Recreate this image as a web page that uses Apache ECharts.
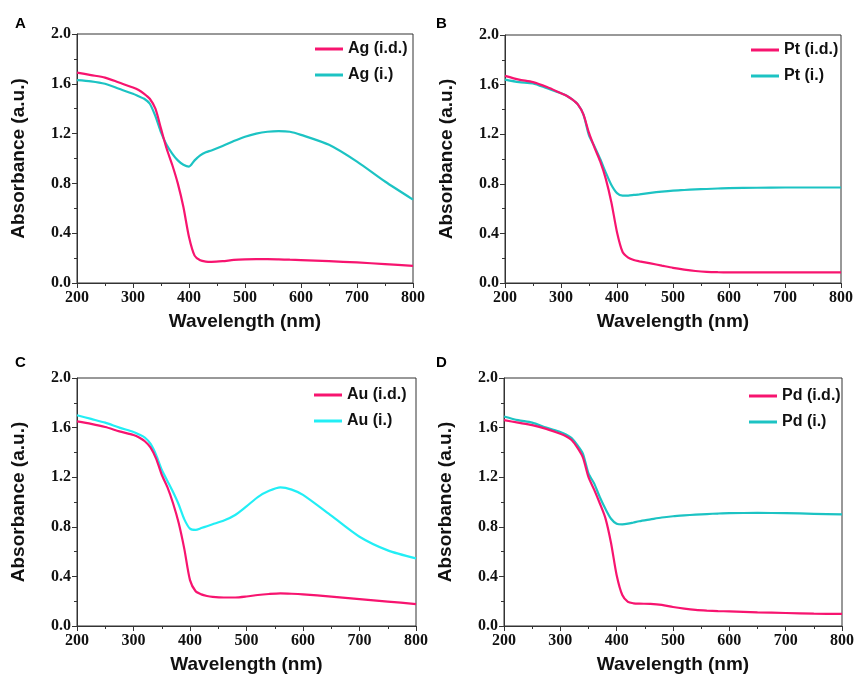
<!DOCTYPE html>
<html><head><meta charset="utf-8">
<script src="https://cdn.jsdelivr.net/npm/echarts@6/dist/echarts.min.js"></script>
<style>html,body{margin:0;padding:0;background:#fff}#c{width:857px;height:676px}</style>
</head><body><div id="c"></div>
<script>
const wavelength = [200,225,250,275,300,310,320,330,340,350,360,370,380,390,400,410,420,430,440,460,480,500,520,540,560,580,600,650,700,750,800];
const xTicks = [200,300,400,500,600,700,800];
const yTicks = [0.0,0.4,0.8,1.2,1.6,2.0];

const agID = [1.69,1.67,1.65,1.61,1.57,1.55,1.52,1.48,1.40,1.24,1.08,0.95,0.80,0.61,0.37,0.22,0.182,0.172,0.17,0.175,0.185,0.19,0.192,0.192,0.19,0.187,0.184,0.175,0.165,0.152,0.137];
const agI  = [1.63,1.62,1.60,1.56,1.52,1.50,1.48,1.44,1.34,1.21,1.11,1.04,0.985,0.95,0.935,0.985,1.025,1.05,1.065,1.10,1.14,1.175,1.20,1.215,1.22,1.215,1.19,1.11,0.975,0.815,0.67];
const ptID = [1.67,1.64,1.62,1.58,1.53,1.51,1.48,1.44,1.36,1.21,1.09,0.98,0.84,0.65,0.41,0.25,0.205,0.185,0.175,0.158,0.14,0.122,0.108,0.097,0.09,0.087,0.086,0.085,0.085,0.085,0.085];
const ptI  = [1.64,1.62,1.61,1.57,1.53,1.51,1.48,1.44,1.36,1.19,1.10,1.00,0.89,0.79,0.725,0.705,0.705,0.71,0.715,0.727,0.737,0.745,0.75,0.755,0.758,0.762,0.765,0.768,0.77,0.77,0.77];
const auID = [1.65,1.63,1.605,1.57,1.54,1.52,1.49,1.44,1.35,1.22,1.12,0.99,0.83,0.62,0.37,0.28,0.255,0.242,0.235,0.23,0.23,0.238,0.25,0.258,0.263,0.26,0.255,0.237,0.217,0.197,0.177];
const auI  = [1.70,1.67,1.64,1.60,1.565,1.545,1.52,1.47,1.38,1.26,1.17,1.08,0.98,0.86,0.785,0.775,0.79,0.805,0.82,0.85,0.895,0.965,1.04,1.09,1.118,1.10,1.057,0.89,0.72,0.61,0.545];
const pdID = [1.66,1.64,1.62,1.59,1.55,1.53,1.50,1.44,1.36,1.20,1.10,0.99,0.87,0.67,0.41,0.25,0.195,0.183,0.18,0.178,0.17,0.153,0.14,0.13,0.124,0.12,0.118,0.11,0.105,0.10,0.097];
const pdI  = [1.69,1.66,1.64,1.60,1.565,1.545,1.515,1.46,1.39,1.23,1.15,1.04,0.945,0.865,0.825,0.82,0.825,0.835,0.845,0.86,0.875,0.885,0.892,0.898,0.903,0.907,0.91,0.912,0.91,0.905,0.90];

const panels = [
  {letter:'A', names:['Ag (i.d.)','Ag (i.)'], vals:[agID, agI], colors:['#f7146f','#1cc3c3'], grid:{left:77, top:34, width:336, height:249}, legend:{left:315, top:41}},
  {letter:'B', names:['Pt (i.d.)','Pt (i.)'], vals:[ptID, ptI], colors:['#f7146f','#1cc3c3'], grid:{left:505, top:35, width:336, height:248}, legend:{left:751, top:42}},
  {letter:'C', names:['Au (i.d.)','Au (i.)'], vals:[auID, auI], colors:['#f7146f','#22eef5'], grid:{left:77, top:378, width:339, height:248}, legend:{left:314, top:387}},
  {letter:'D', names:['Pd (i.d.)','Pd (i.)'], vals:[pdID, pdI], colors:['#f7146f','#1cc3c3'], grid:{left:504, top:378, width:338, height:248}, legend:{left:749, top:388}}
];

const grids=[], xAxes=[], yAxes=[], series=[], legends=[], titles=[];
panels.forEach((p,i)=>{
  grids.push(Object.assign({show:true, borderColor:'#333', borderWidth:1, containLabel:false}, p.grid));
  xAxes.push({type:'value', gridIndex:i, min:xTicks[0], max:xTicks[xTicks.length-1], interval:100,
    name:'Wavelength (nm)', nameLocation:'middle', nameGap:29,
    nameTextStyle:{fontFamily:'Liberation Sans', fontWeight:'bold', fontSize:19, color:'#111'},
    axisLine:{lineStyle:{color:'#333', width:1}},
    axisTick:{length:5, lineStyle:{color:'#333'}},
    minorTick:{show:true, splitNumber:2, length:3, lineStyle:{color:'#333'}},
    splitLine:{show:false},
    axisLabel:{margin:7, fontFamily:'Liberation Serif', fontWeight:'bold', fontSize:16, color:'#111'}});
  yAxes.push({type:'value', gridIndex:i, min:yTicks[0], max:yTicks[yTicks.length-1], interval:0.4,
    name:'Absorbance (a.u.)', nameLocation:'middle', nameGap:49,
    nameTextStyle:{fontFamily:'Liberation Sans', fontWeight:'bold', fontSize:19, color:'#111'},
    axisLine:{lineStyle:{color:'#333', width:1}},
    axisTick:{length:5, lineStyle:{color:'#333'}},
    minorTick:{show:true, splitNumber:2, length:3, lineStyle:{color:'#333'}},
    splitLine:{show:false},
    axisLabel:{margin:6, fontFamily:'Liberation Serif', fontWeight:'bold', fontSize:16, color:'#111', formatter:v=>v.toFixed(1)}});
  p.names.forEach((n,k)=>{
    series.push({type:'line', name:n, xAxisIndex:i, yAxisIndex:i, showSymbol:false, smooth:0.25,
      data:wavelength.map((w,j)=>[w,p.vals[k][j]]),
      lineStyle:{color:p.colors[k], width:2.2}, itemStyle:{color:p.colors[k]}, z:3-k});
  });
  legends.push({data:p.names, left:p.legend.left, top:p.legend.top, orient:'vertical', padding:0,
    itemWidth:28, itemHeight:3, itemGap:10, icon:'rect',
    textStyle:{fontFamily:'Liberation Sans', fontWeight:'bold', fontSize:16, color:'#111'}});
  titles.push({text:p.letter, left: (i%2===0)? 10 : 431, top: (i<2)? 11 : 350,
    textStyle:{fontFamily:'Liberation Sans', fontWeight:'bold', fontSize:15, color:'#000'}});
});

const chart = echarts.init(document.getElementById('c'), null, {renderer:'canvas'});
chart.setOption({animation:false, title:titles, grid:grids, xAxis:xAxes, yAxis:yAxes, legend:legends, series:series});
</script></body></html>
